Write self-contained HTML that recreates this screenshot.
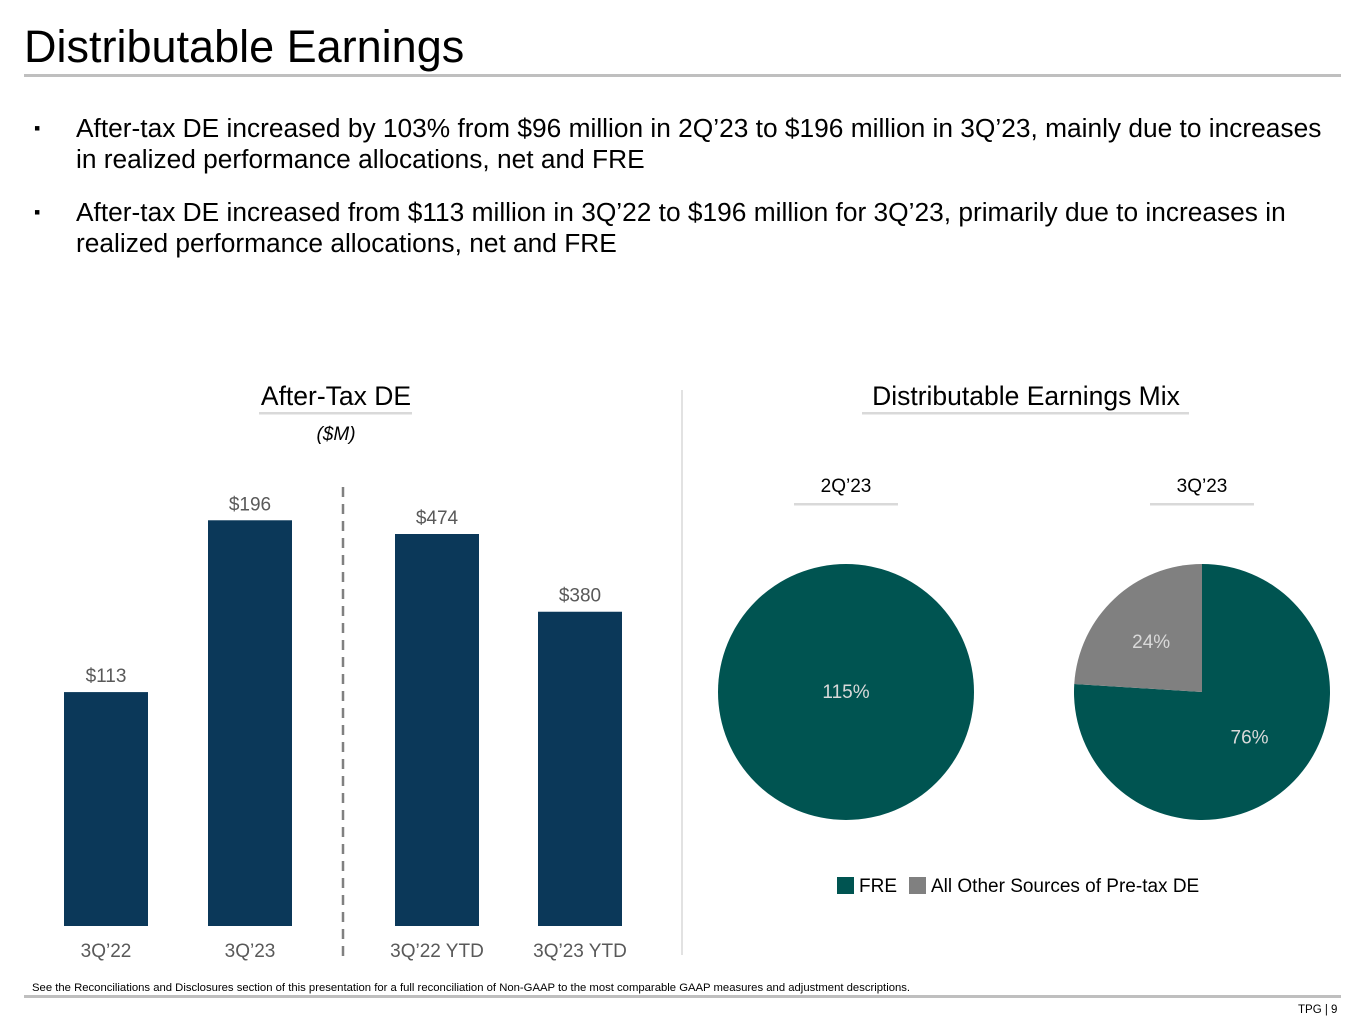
<!DOCTYPE html>
<html><head><meta charset="utf-8"><style>
body{margin:0;width:1365px;height:1024px;background:#fff;font-family:"Liberation Sans",Arial,sans-serif;position:relative;overflow:hidden;color:#000}
.abs{position:absolute}
</style></head><body>
<div class="abs" style="left:24px;top:21px;font-size:45px;line-height:52px">Distributable Earnings</div>
<div class="abs" style="left:24px;top:74px;width:1317px;height:3px;background:#bfbfbf"></div>
<div class="abs" style="left:34px;top:113px;width:1305px;font-size:26.3px;line-height:31px"><span style="position:absolute;left:0;font-size:18px">▪</span><div style="margin-left:42px">After-tax DE increased by 103% from $96 million in 2Q’23 to $196 million in 3Q’23, mainly due to increases in realized performance allocations, net and FRE</div></div>
<div class="abs" style="left:34px;top:197px;width:1305px;font-size:26.3px;line-height:31px"><span style="position:absolute;left:0;font-size:18px">▪</span><div style="margin-left:42px">After-tax DE increased from $113 million in 3Q’22 to $196 million for 3Q’23, primarily due to increases in realized performance allocations, net and FRE</div></div>
<div class="abs" style="left:32px;top:982px;font-size:11.3px">See the Reconciliations and Disclosures section of this presentation for a full reconciliation of Non-GAAP to the most comparable GAAP measures and adjustment descriptions.</div>
<div class="abs" style="left:24px;top:995px;width:1317px;height:3px;background:#bfbfbf"></div>
<div class="abs" style="left:1298px;top:1004px;font-size:11.5px">TPG | 9</div>
<svg class="abs" style="left:0;top:0" width="1365" height="1024" id="chart" font-family="Liberation Sans, Arial, sans-serif"></svg>
<script>
const ns='http://www.w3.org/2000/svg';
const svg=document.getElementById('chart');
function mk(t,a,txt){const e=document.createElementNS(ns,t);for(const k in a)e.setAttribute(k,a[k]);if(txt!==undefined)e.textContent=txt;svg.appendChild(e);return e;}
const categories=['3Q’22','3Q’23','3Q’22 YTD','3Q’23 YTD'];
const values=[113,196,474,380];
const valueLabels=['$113','$196','$474','$380'];
const pieLabels=['2Q’23','3Q’23'];
const freShare=[115,76];
const otherShare=[0,24];
const base=926, barW=84;
const barX=[64,208,395,538];
function yQ(v){return base-v*2.07;}
function yY(v){return base-v*0.827;}
values.forEach((v,i)=>{
  const y=i<2?yQ(v):yY(v);
  const r=mk('rect',{x:barX[i],y:y,width:barW,height:base-y,fill:'#0b3859'});
  
  
  const t=mk('text',{x:barX[i]+barW/2,y:y-10,'text-anchor':'middle','font-size':19,fill:'#595959'},valueLabels[i]);
  
  
  const c=mk('text',{x:barX[i]+barW/2,y:957,'text-anchor':'middle','font-size':19,fill:'#595959'},categories[i]);
  
  
});
let d=mk('line',{x1:343,y1:487,x2:343,y2:958,stroke:'#808080','stroke-width':2.5,'stroke-dasharray':'10,7'});

let t1=mk('text',{x:336,y:405,'text-anchor':'middle','font-size':26.5,fill:'#000'},'After-Tax DE');

let r1=mk('rect',{x:259,y:412,width:153,height:2.5,fill:'#d9d9d9'});

let t2=mk('text',{x:336,y:440,'text-anchor':'middle','font-size':19,'font-style':'italic',fill:'#000'},'($M)');

let vd=mk('line',{x1:682,y1:390,x2:682,y2:955,stroke:'#d9d9d9','stroke-width':1.5});

let t3=mk('text',{x:1026,y:405,'text-anchor':'middle','font-size':26.5,fill:'#000'},'Distributable Earnings Mix');

let r3=mk('rect',{x:862,y:412,width:327,height:2.5,fill:'#d9d9d9'});

const cx=[846,1202], cy=692, R=128;
let cx0;
function pt(f){const a=f*2*Math.PI-Math.PI/2;return [cx0+R*Math.cos(a),cy+R*Math.sin(a)];}
pieLabels.forEach((lab,i)=>{
  cx0=cx[i];
  const l=mk('text',{x:cx[i],y:492,'text-anchor':'middle','font-size':19,fill:'#000'},lab);
  
  const u=mk('rect',{x:cx[i]-52,y:503,width:104,height:2.5,fill:'#d9d9d9'});
  
  const tot=freShare[i]+otherShare[i];
  const ff=freShare[i]/tot;
  let s;
  if(ff>=0.9999){s=mk('circle',{cx:cx[i],cy:cy,r:R,fill:'#005451'});}
  else{const p=pt(ff);s=mk('path',{d:`M${cx[i]},${cy} L${cx[i]},${cy-R} A${R},${R} 0 ${ff>0.5?1:0} 1 ${p[0]},${p[1]} Z`,fill:'#005451'});
    const o=mk('path',{d:`M${cx[i]},${cy} L${p[0]},${p[1]} A${R},${R} 0 ${ff<0.5?1:0} 1 ${cx[i]},${cy-R} Z`,fill:'#808080'});
    
    const ma=(ff+1)/2*2*Math.PI-Math.PI/2;
    const ot=mk('text',{x:cx[i]+R*0.58*Math.cos(ma),y:cy+R*0.58*Math.sin(ma)+10,'text-anchor':'middle','font-size':19,fill:'#d9d9d9'},otherShare[i]+'%');
    }
  
  let fx=cx[i],fy=cy+6;
  if(ff<0.9999){const ma=ff/2*2*Math.PI-Math.PI/2;fx=cx[i]+R*0.52*Math.cos(ma)+2;fy=cy+R*0.52*Math.sin(ma)+3;}
  const ft=mk('text',{x:fx,y:fy,'text-anchor':'middle','font-size':19,fill:'#d9d9d9'},freShare[i]+'%');
  
});
let lg1=mk('rect',{x:837,y:877,width:17,height:17,fill:'#005451'});

let lt1=mk('text',{x:859,y:892,'font-size':19,fill:'#000'},'FRE');

let lg2=mk('rect',{x:909,y:877,width:17,height:17,fill:'#808080'});

let lt2=mk('text',{x:931,y:892,'font-size':19,fill:'#000'},'All Other Sources of Pre-tax DE');

</script>
</body></html>
